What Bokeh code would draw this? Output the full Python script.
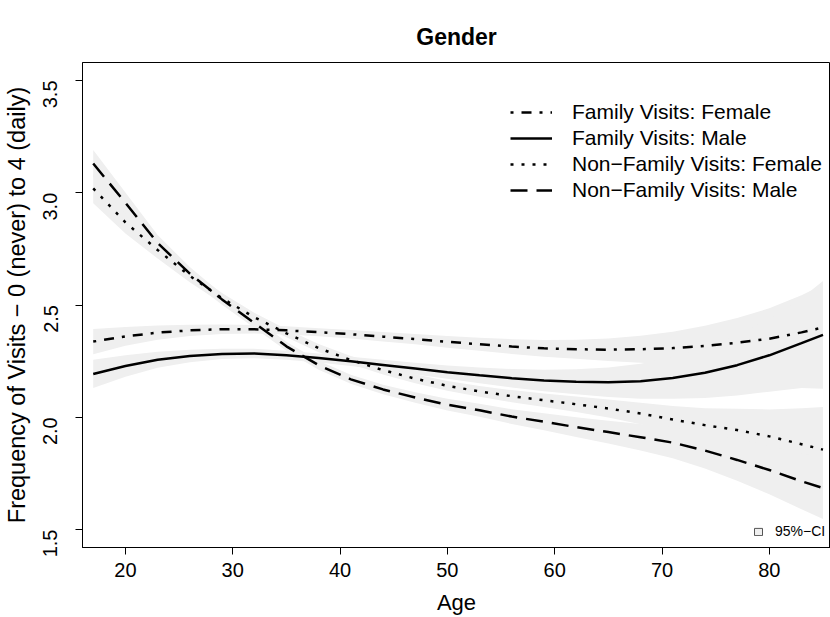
import math
from bokeh.plotting import figure
from bokeh.models import Range1d, FixedTicker, Legend, LegendItem, ColumnDataSource
from bokeh.embed import file_html
from bokeh.resources import INLINE

# ---------------- data ----------------
age = [17, 20, 23, 26, 29, 32, 35, 38, 41, 44, 47, 50, 53, 56, 59, 62, 65, 68, 71, 74, 77, 80, 83, 85]

# Family Visits: Female
fam_female = [2.337, 2.360, 2.377, 2.387, 2.392, 2.392, 2.387, 2.379, 2.370, 2.359, 2.348, 2.336,
              2.325, 2.315, 2.307, 2.303, 2.301, 2.303, 2.308, 2.318, 2.332, 2.350, 2.378, 2.400]
fam_female_lo = [2.281, 2.318, 2.345, 2.362, 2.371, 2.373, 2.369, 2.361, 2.351, 2.338, 2.325, 2.310,
                 2.296, 2.282, 2.270, 2.261, 2.251, 2.243, 2.235, 2.228, 2.222, 2.215, 2.213, 2.210]
fam_female_hi = [2.393, 2.402, 2.409, 2.412, 2.413, 2.411, 2.405, 2.397, 2.389, 2.380, 2.371, 2.362,
                 2.354, 2.348, 2.344, 2.345, 2.351, 2.363, 2.381, 2.408, 2.442, 2.485, 2.543, 2.590]

# Family Visits: Male
fam_male = [2.193, 2.228, 2.256, 2.273, 2.282, 2.284, 2.276, 2.264, 2.249, 2.233, 2.217, 2.201,
            2.187, 2.174, 2.164, 2.158, 2.156, 2.160, 2.175, 2.198, 2.232, 2.276, 2.330, 2.367]
fam_male_lo = [2.130, 2.180, 2.220, 2.245, 2.259, 2.263, 2.256, 2.244, 2.228, 2.210, 2.191, 2.171,
               2.152, 2.133, 2.116, 2.102, 2.090, 2.082, 2.082, 2.086, 2.097, 2.114, 2.130, 2.127]
fam_male_hi = [2.256, 2.276, 2.292, 2.301, 2.305, 2.305, 2.296, 2.284, 2.270, 2.256, 2.243, 2.231,
               2.222, 2.215, 2.212, 2.214, 2.222, 2.238, 2.268, 2.310, 2.367, 2.438, 2.530, 2.607]

# Non-Family Visits: Female
nonfam_female = [3.019, 2.868, 2.745, 2.630, 2.530, 2.446, 2.374, 2.308, 2.255, 2.210, 2.172, 2.140,
                 2.115, 2.094, 2.076, 2.058, 2.039, 2.017, 1.990, 1.965, 1.943, 1.915, 1.880, 1.856]
nonfam_female_lo = [2.953, 2.818, 2.707, 2.601, 2.507, 2.426, 2.356, 2.290, 2.237, 2.191, 2.152, 2.118,
                    2.091, 2.067, 2.046, 2.024, 1.999, 1.969, 1.930, 1.890, 1.848, 1.795, 1.720, 1.666]
nonfam_female_hi = [3.085, 2.918, 2.783, 2.659, 2.553, 2.466, 2.392, 2.326, 2.273, 2.229, 2.192, 2.162,
                    2.139, 2.121, 2.106, 2.092, 2.079, 2.065, 2.050, 2.040, 2.038, 2.035, 2.040, 2.046]

# Non-Family Visits: Male
nonfam_male = [3.130, 2.955, 2.776, 2.640, 2.525, 2.420, 2.316, 2.232, 2.169, 2.124, 2.088, 2.056,
               2.031, 2.003, 1.980, 1.956, 1.934, 1.911, 1.887, 1.852, 1.810, 1.765, 1.715, 1.685]
nonfam_male_lo = [3.070, 2.909, 2.740, 2.611, 2.501, 2.399, 2.296, 2.212, 2.149, 2.103, 2.065, 2.030,
                  2.002, 1.970, 1.942, 1.912, 1.883, 1.852, 1.818, 1.772, 1.717, 1.657, 1.590, 1.547]
nonfam_male_hi = [3.190, 3.001, 2.812, 2.669, 2.549, 2.441, 2.336, 2.252, 2.189, 2.145, 2.111, 2.082,
                  2.060, 2.036, 2.018, 2.000, 1.985, 1.970, 1.956, 1.932, 1.903, 1.873, 1.840, 1.823]

x_ticks = [20, 30, 40, 50, 60, 70, 80]
y_ticks = [1.5, 2.0, 2.5, 3.0, 3.5]
y_tick_labels = ["1.5", "2.0", "2.5", "3.0", "3.5"]
series_names = ["Family Visits: Female", "Family Visits: Male",
                "Non\u2212Family Visits: Female", "Non\u2212Family Visits: Male"]
title_text = "Gender"
x_label = "Age"
y_label = "Frequency of Visits \u2212 0 (never) to 4 (daily)"
ci_label = "95%\u2212CI"

# ---------------- styling ----------------
FONT = "Liberation Sans"
BAND = "#EFEFEF"
X0, X1 = 16.0, 85.7
Y0, Y1 = 1.42, 3.58

p = figure(width=830, height=617, output_backend="svg", toolbar_location=None, title=title_text,
           x_range=Range1d(X0, X1), y_range=Range1d(Y0, Y1),
           min_border_left=82, min_border_right=0, min_border_top=62, min_border_bottom=69,
           background_fill_color="white", border_fill_color="white")
p.title.align = "center"
p.title.text_font = FONT
p.title.text_font_size = "23px"
p.title.text_font_style = "bold"
p.title.text_color = "black"
p.title.standoff = 25

p.grid.visible = False
p.outline_line_color = "black"
p.outline_line_width = 1

src = ColumnDataSource(dict(
    age=age,
    ff=fam_female, ff_lo=fam_female_lo, ff_hi=fam_female_hi,
    fm=fam_male, fm_lo=fam_male_lo, fm_hi=fam_male_hi,
    nf=nonfam_female, nf_lo=nonfam_female_lo, nf_hi=nonfam_female_hi,
    nm=nonfam_male, nm_lo=nonfam_male_lo, nm_hi=nonfam_male_hi,
))

for key in ["ff", "fm", "nf", "nm"]:
    p.varea(x="age", y1=key + "_lo", y2=key + "_hi", source=src, fill_color=BAND, fill_alpha=1.0)

styles = [("ff", "3 8 10 8"), ("fm", "solid"), ("nf", "3 8"), ("nm", "17 9")]
renderers = []
for key, dash in styles:
    r = p.line(x="age", y=key, source=src, line_color="black", line_width=2.5,
               line_dash=dash, line_cap="butt")
    renderers.append(r)

legend = Legend(items=[LegendItem(label=n, renderers=[r]) for n, r in zip(series_names, renderers)],
                location=(428, 344), orientation="vertical",
                glyph_width=42, glyph_height=26, label_height=26, label_standoff=20,
                spacing=0, padding=0, margin=0,
                border_line_alpha=0, background_fill_alpha=0,
                label_text_font=FONT, label_text_font_size="21px", label_text_color="black")
p.add_layout(legend)

# legend key for the confidence bands: an (invisible) interval renderer of the CI columns
ci_r = p.quad(left="age", right="age", bottom="ff_lo", top="ff_hi", source=src,
              fill_color=BAND, line_color="#555555", line_width=1, visible=False)
ci_legend = Legend(items=[LegendItem(label=ci_label, renderers=[ci_r])],
                   location=(671, 8), glyph_width=10, glyph_height=9, label_height=9,
                   label_standoff=12, spacing=0, padding=0, margin=0,
                   border_line_alpha=0, background_fill_alpha=0,
                   label_text_font=FONT, label_text_font_size="14px", label_text_color="black")
p.add_layout(ci_legend)

p.xaxis.ticker = FixedTicker(ticks=x_ticks)
p.yaxis.ticker = FixedTicker(ticks=y_ticks)
p.yaxis.major_label_overrides = {t: l for t, l in zip(y_ticks, y_tick_labels)}
for ax in (p.xaxis[0], p.yaxis[0]):
    ax.axis_line_color = "black"
    ax.major_tick_line_color = "black"
    ax.major_tick_out = 7
    ax.major_tick_in = 0
    ax.minor_tick_line_color = None
    ax.major_label_text_font = FONT
    ax.major_label_text_font_size = "20px"
    ax.major_label_text_color = "black"
    ax.axis_label_text_font = FONT
    ax.axis_label_text_font_style = "normal"
    ax.axis_label_text_color = "black"
p.xaxis.axis_label_text_font_size = "22px"
p.yaxis.axis_label_text_font_size = "23.5px"
p.xaxis.axis_label = x_label
p.yaxis.axis_label = y_label
p.yaxis.major_label_orientation = math.pi / 2
p.xaxis.major_label_standoff = 8
p.yaxis.major_label_standoff = 25
p.xaxis.axis_label_standoff = 10
p.yaxis.axis_label_standoff = 4

open("out.html", "w").write(file_html(p, INLINE))
